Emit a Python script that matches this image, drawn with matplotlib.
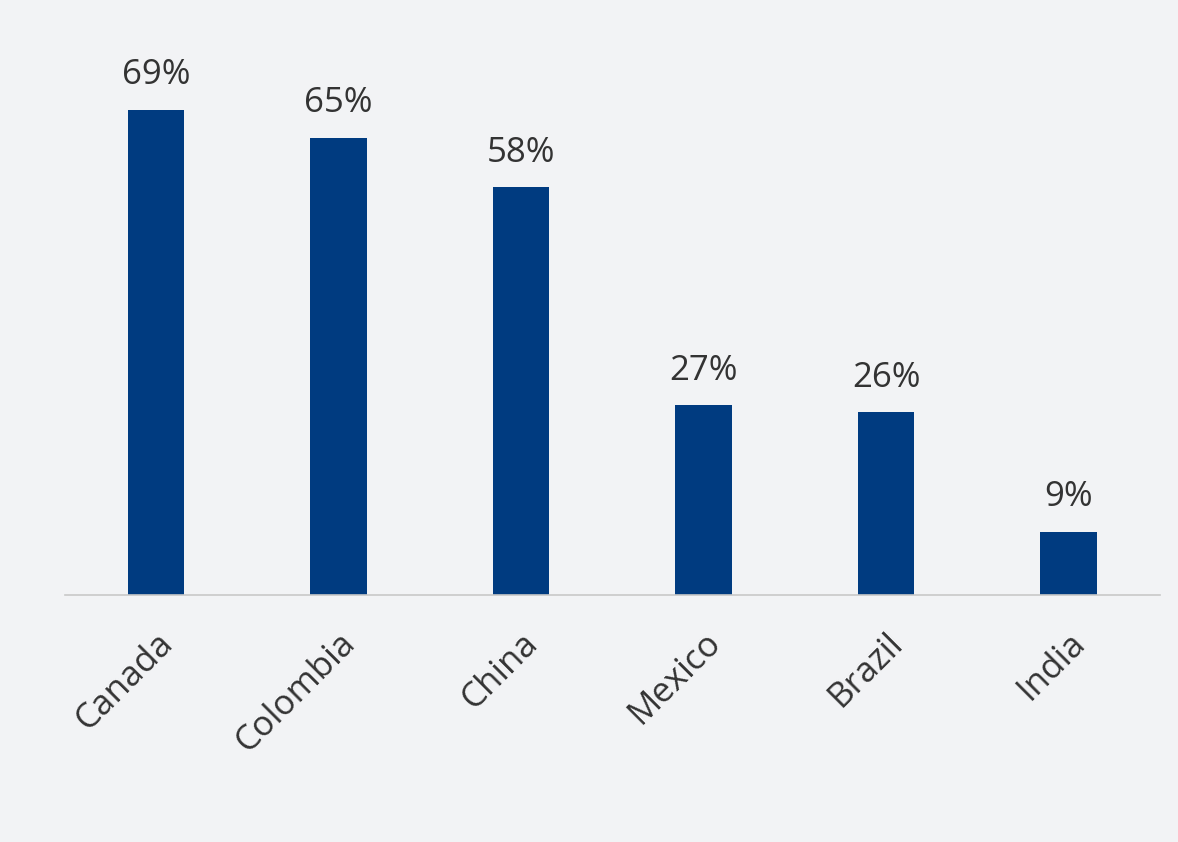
import matplotlib.pyplot as plt

countries = ['Canada', 'Colombia', 'China', 'Mexico', 'Brazil', 'India']
shares = [69, 65, 58, 27, 26, 9]

bg = '#f2f3f5'
fig = plt.figure(figsize=(11.78, 8.42), dpi=100, facecolor=bg)
ax = fig.add_axes([0.055, 0.2933, 0.9295, 0.7067], facecolor=bg)

x = range(len(countries))
ax.bar(x, shares, width=0.31, color='#003b80')

# value labels above bars
for i, v in zip(x, shares):
    ax.text(i, v + 2.5, f'{v}%', ha='center', va='bottom',
            fontsize=25, color='#333333', family='Open Sans')

ax.set_xlim(-0.5, 5.5)
ax.set_ylim(0, 84.6)
ax.set_xticks(list(x))
ax.set_xticklabels(countries, rotation=45, ha='right', rotation_mode='anchor',
                   fontsize=25, color='#333333', family='Open Sans')
ax.tick_params(axis='x', length=0, pad=22)
ax.set_yticks([])
for side in ['top', 'left', 'right']:
    ax.spines[side].set_visible(False)
ax.spines['bottom'].set_color('#c8c8c8')
ax.spines['bottom'].set_linewidth(1.2)

plt.savefig('out.png', facecolor=bg)
